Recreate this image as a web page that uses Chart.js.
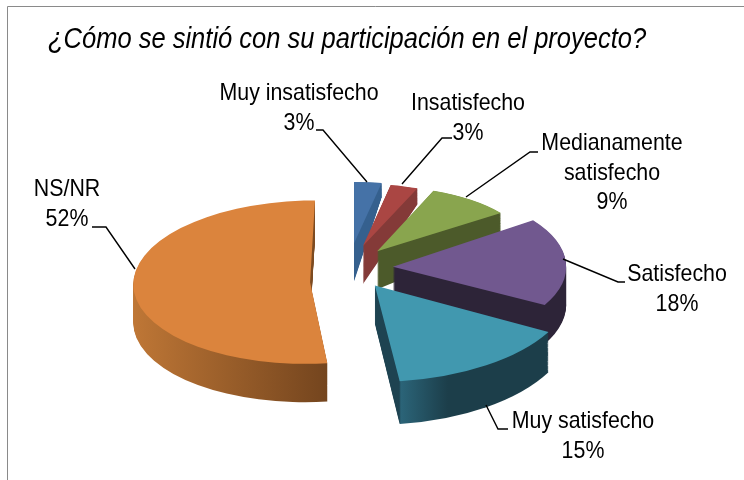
<!DOCTYPE html>
<html>
<head>
<meta charset="utf-8">
<script src="https://cdn.jsdelivr.net/npm/chart.js@4"></script>
<style>html,body{margin:0;padding:0;background:#fff}canvas{display:block}</style>
</head>
<body>
<canvas id="c" width="744" height="480"></canvas>
<script>
const titleText = "¿Cómo se sintió con su participación en el proyecto?";
const categories = ["Muy insatisfecho", "Insatisfecho", "Medianamente satisfecho", "Satisfecho", "Muy satisfecho", "NS/NR"];
const values = [3, 3, 9, 18, 15, 52];
const topColors = ["#4572A7", "#AA4643", "#89A54E", "#71588F", "#4198AF", "#DB843D"];
const wallStops = [
  [[0, "#35608E"], [1, "#35608E"]],
  [[0, "#843A38"], [1, "#843A38"]],
  [[0, "#4C5A2A"], [1, "#4C5A2A"]],
  [[0, "#2D2438"], [1, "#2D2438"]],
  [[0, "#1E4351"], [0.14, "#1E4351"], [0.15, "#2B6478"], [0.42, "#1C3E4A"], [1, "#1C3E4A"]],
  [[0, "#BF7736"], [1, "#74451E"]]
];
const explode = [54, 50, 46, 44, 46, 39];
const sliceLift = [0, 0, 0, 0, 0, 13];
const sliceSkew = [0, 0, 0, 0, 0, -0.06];

const projection = { tilt: 0.46, persX: 0.16, persY: 0.24, depth: 38, stretchFar: 0.4, stretchNear: 0.06 };

const labelBoxes = [
  { x: 299, y: 92 }, { x: 468, y: 102 }, { x: 612, y: 142 },
  { x: 677, y: 273 }, { x: 583, y: 420 }, { x: 67, y: 188 }
];
const leaders = [
  [[316, 130], [323, 130], [367, 182]],
  [[452, 138], [442, 138], [402, 184]],
  [[538, 152], [530, 152], [466, 197]],
  [[625, 282], [618, 282], [563, 259]],
  [[508, 429], [498, 429], [486, 405]],
  [[92, 227], [106, 227], [135, 269]]
];

function sliceFrame(el, i) {
  const p = el.getProps(["x", "y", "startAngle", "endAngle"], true);
  const mid = (p.startAngle + p.endAngle) / 2;
  const cosT = -Math.sin(mid), sinT = Math.cos(mid);
  return {
    p, cosT, skew: sliceSkew[i],
    tx: p.x + explode[i] * sinT,
    ty: p.y - explode[i] * projection.tilt * cosT + sliceLift[i],
    sx: 1 - projection.persX * cosT,
    sy: projection.tilt * (1 - projection.persY * cosT)
  };
}
function applyFrame(ctx, f, t) {
  const g = 1 + (projection.stretchFar * Math.max(0, f.cosT) + projection.stretchNear * Math.max(0, -f.cosT)) * t;
  ctx.translate(f.tx, f.ty + projection.depth * t);
  ctx.transform(1, 0, f.skew, 1, 0, 0);
  ctx.scale(f.sx, f.sy * g);
  ctx.translate(-f.p.x, -f.p.y);
}
function drawWall(ctx, el, i, f) {
  const r = el.getProps(["outerRadius"], true).outerRadius;
  const a = f.p.startAngle, b = f.p.endAngle;
  const xs = [Math.cos(a), Math.cos(b), 0];
  if (a <= Math.PI && b >= Math.PI) xs.push(-1);
  const x0 = f.p.x + r * Math.min(...xs), x1 = f.p.x + r * Math.max(...xs);
  for (let d = projection.depth; d >= 1; d--) {
    ctx.save();
    applyFrame(ctx, f, d / projection.depth);
    const grad = ctx.createLinearGradient(x0, 0, x1, 0);
    wallStops[i].forEach(s => grad.addColorStop(s[0], s[1]));
    ctx.fillStyle = grad;
    ctx.beginPath();
    ctx.moveTo(f.p.x, f.p.y);
    ctx.arc(f.p.x, f.p.y, r, a, b);
    ctx.closePath();
    ctx.fill();
    ctx.restore();
  }
}
function condensedText(ctx, text, x, y, size, squeeze, style, align) {
  ctx.save();
  ctx.font = (style ? style + " " : "") + size + "px 'Liberation Sans', Arial, sans-serif";
  ctx.fillStyle = "#000";
  ctx.textAlign = align;
  ctx.textBaseline = "alphabetic";
  ctx.translate(x, y);
  ctx.scale(squeeze, 1);
  ctx.fillText(text, 0, 0);
  ctx.restore();
}
function labelLines(i) {
  const name = categories[i];
  const words = name.length > 20 ? name.split(" ") : [name];
  return words.concat([values[i] + "%"]);
}

const pie3d = {
  id: "pie3d",
  beforeDraw(chart) {
    const ctx = chart.ctx;
    ctx.save();
    ctx.fillStyle = "#fff";
    ctx.fillRect(0, 0, 744, 480);
    ctx.strokeStyle = "#8a8a8a";
    ctx.lineWidth = 1;
    ctx.beginPath();
    ctx.moveTo(7.5, 480);
    ctx.lineTo(7.5, 6.5);
    ctx.lineTo(744, 6.5);
    ctx.stroke();
    ctx.restore();
  },
  beforeDatasetDraw(chart, args) {
    const ctx = chart.ctx;
    const els = chart.getDatasetMeta(args.index).data;
    els.forEach((el, i) => {
      const f = sliceFrame(el, i);
      drawWall(ctx, el, i, f);
      ctx.save();
      applyFrame(ctx, f, 0);
      el.draw(ctx);
      ctx.restore();
    });
    return false;
  },
  afterDraw(chart) {
    const ctx = chart.ctx;
    ctx.save();
    ctx.strokeStyle = "#000";
    ctx.lineWidth = 1.4;
    leaders.forEach(pts => {
      ctx.beginPath();
      pts.forEach((q, k) => k ? ctx.lineTo(q[0], q[1]) : ctx.moveTo(q[0], q[1]));
      ctx.stroke();
    });
    ctx.restore();
    condensedText(ctx, titleText, 48, 48, 30, 0.85, "italic", "left");
    categories.forEach((_, i) => {
      labelLines(i).forEach((line, k) => {
        condensedText(ctx, line, labelBoxes[i].x, labelBoxes[i].y + 8 + k * 29.5, 24, 0.89, "", "center");
      });
    });
  }
};

new Chart(document.getElementById("c"), {
  type: "pie",
  data: {
    labels: categories,
    datasets: [{
      data: values,
      backgroundColor: topColors,
      borderWidth: 0,
      hoverOffset: 0,
      radius: 175
    }]
  },
  options: {
    responsive: false,
    animation: false,
    events: [],
    layout: { padding: { left: 0, right: 46, top: 56, bottom: 0 } },
    plugins: { legend: { display: false }, tooltip: { enabled: false } }
  },
  plugins: [pie3d]
});
</script>
</body>
</html>
